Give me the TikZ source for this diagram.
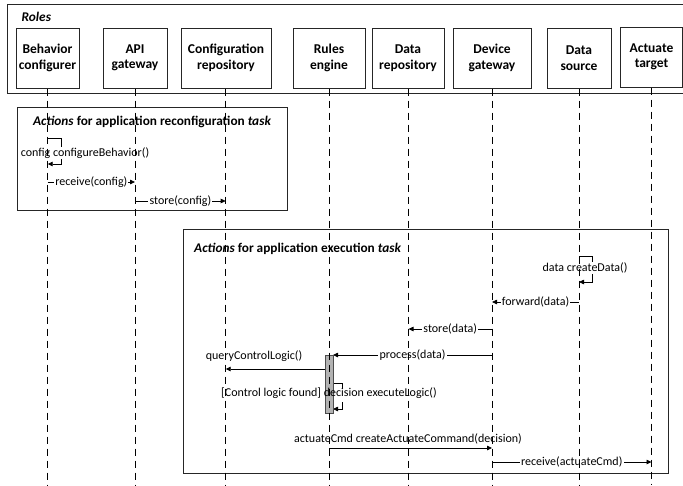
\documentclass[tikz,border=0pt]{standalone}
\usepackage{fontspec}
\setmainfont{Carlito}
\usetikzlibrary{arrows.meta}
\begin{document}
\begin{tikzpicture}[x=1pt,y=-1pt,
  role/.style={draw=black!85, line width=1pt, minimum height=60pt, align=center,
    font=\fontsize{13.5}{15.5}\selectfont\bfseries, inner sep=0pt},
  frame/.style={draw=black!85, line width=0.9pt},
  life/.style={draw=black, line width=0.9pt, dash pattern=on 7pt off 5pt},
  msg/.style={draw=black, line width=0.8pt, -{Triangle[length=5pt,width=4.5pt]}},
  seg/.style={draw=black, line width=0.8pt},
  lbl/.style={font=\fontsize{12}{14}\selectfont, fill=white, inner sep=1.2pt},
  tlbl/.style={font=\fontsize{12}{14}\selectfont, fill=white, inner sep=0.6pt},
  ttl/.style={font=\fontsize{13.3}{15}\selectfont\bfseries, inner sep=0pt},
  act/.style={draw=black!70, fill=black!30, line width=0.8pt}
]
\useasboundingbox (0,0) rectangle (683,485);
\fill[white] (0,0) rectangle (683,485);

% Roles frame
\draw[frame] (7,4) rectangle (685,93);
\node[ttl, anchor=west] (roles) at (21.5,17) {\itshape Roles};

\node[role, minimum width=63pt] (bc) at (47.5,58) {Behavior\\configurer};
\node[role, minimum width=64pt] (api) at (135,58) {API\\gateway};
\node[role, minimum width=90pt] (cr) at (226,58) {Configuration\\repository};
\node[role, minimum width=72pt] (re) at (329,58) {Rules\\engine};
\node[role, minimum width=72pt] (dr) at (408,58) {Data\\repository};
\node[role, minimum width=78pt] (dg) at (492,58) {Device\\gateway};
\node[role, minimum width=64pt] (ds) at (579,58) {Data\\source};
\node[role, minimum width=62pt] (at) at (651.5,57) {Actuate\\target};

% frames
\draw[frame] (17,107) rectangle (287,210);
\node[ttl] (t1) at (152,122) {\itshape Actions\/\upshape\ for application reconfiguration \itshape task};
\draw[frame] (183,229) rectangle (668,473);
\node[ttl, anchor=west] (t2) at (194,249) {\itshape Actions\/\upshape\ for application execution \itshape task};

% coordinates on lifelines
\coordinate (bcS) at (47.7,138);
\coordinate (bcSr) at (61,138);
\coordinate (bcEr) at (61,164);
\coordinate (bcE) at (47.7,164);
\coordinate (bc1) at (47.7,182);
\coordinate (api1) at (135,182);
\coordinate (api2) at (135,201);
\coordinate (cr2) at (225.7,201);

\coordinate (dsS) at (579,256);
\coordinate (dsSr) at (592,256);
\coordinate (dsEr) at (592,282);
\coordinate (dsE) at (579,282);
\coordinate (ds1) at (579,302);
\coordinate (dg1) at (492,302);
\coordinate (dg2) at (492,329);
\coordinate (dr2) at (408.5,329);
\coordinate (dg3) at (492,355);
\coordinate (actR3) at (333,355);
\coordinate (actL4) at (325,369);
\coordinate (cr4) at (225.7,369);
\coordinate (actR5) at (333,383);
\coordinate (reSr) at (342,383);
\coordinate (reSm) at (342,388);
\coordinate (reEm) at (342,402);
\coordinate (reEr) at (342,409);
\coordinate (actR6) at (333,409);
\coordinate (re7) at (329,448);
\coordinate (dg7) at (492,448);
\coordinate (dg8) at (492,462);
\coordinate (at8) at (651.5,462);

% messages
\draw[msg] (bcS) -- (bcSr) -- (bcEr) -- (bcE);
\node[tlbl] (m1) at (85,153) {config configureBehavior()};
\draw[msg] (bc1) -- (api1) node[lbl, midway] (m2) {receive(config)};
\draw[msg] (api2) -- (cr2) node[lbl, midway] (m3) {store(config)};

\draw[msg] (dsS) -- (dsSr) -- (dsEr) -- (dsE);
\node[tlbl] (m4) at (585,268) {data createData()};
\draw[msg] (ds1) -- (dg1) node[lbl, midway] (m5) {forward(data)};
\draw[msg] (dg2) -- (dr2) node[lbl, midway] (m6) {store(data)};
\draw[msg] (dg3) -- (actR3) node[lbl, pos=0.5] (m7) {process(data)};
\draw[msg] (actL4) -- (cr4);
\node[tlbl] (m8) at (254,356) {queryControlLogic()};
\draw[seg] (actR5) -- (reSr) -- (reSm);
\draw[msg] (reEm) -- (reEr) -- (actR6);
\draw[msg] (re7) -- (dg7);
\node[tlbl] (m10) at (408,439) {actuateCmd createActuateCommand(decision)};
\draw[msg] (dg8) -- (at8) node[lbl, midway] (m11) {receive(actuateCmd)};

% activation
\draw[act] (325,355) rectangle (333,413);
\node[tlbl, fill=none] (m9) at (329,393) {[Control logic found] decision executeLogic()};

% lifelines (on top)
\coordinate (bcB) at (47.7,485);
\coordinate (apiB) at (135,485);
\coordinate (crB) at (225.7,485);
\coordinate (reB) at (329,485);
\coordinate (drB) at (408.5,485);
\coordinate (dgB) at (492,485);
\coordinate (dsB) at (579,485);
\coordinate (atB) at (651.5,485);
\draw[life] (bc.south -| bcB) -- (bcB);
\draw[life] (api.south -| apiB) -- (apiB);
\draw[life] (cr.south -| crB) -- (crB);
\draw[life] (re.south -| reB) -- (reB);
\draw[life] (dr.south -| drB) -- (drB);
\draw[life] (dg.south -| dgB) -- (dgB);
\draw[life] (ds.south -| dsB) -- (dsB);
\draw[life] (at.south -| atB) -- (atB);
\end{tikzpicture}
\end{document}
